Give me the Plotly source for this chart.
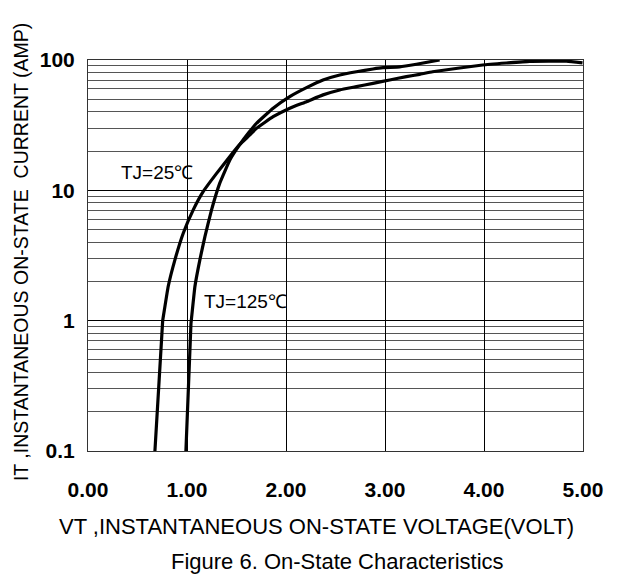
import plotly.graph_objects as go

# ---- data ----
v_25 = [0.676, 0.754, 0.767, 0.810, 0.878, 0.962, 1.063, 1.163, 1.299, 1.433, 1.534,
        1.635, 1.702, 1.870, 2.038, 2.207, 2.374, 2.543, 2.711, 2.879, 3.047, 3.216,
        3.350, 3.481, 3.986, 4.460, 4.834, 4.995]
i_25 = [0.1, 0.99, 1.15, 1.83, 2.93, 4.69, 7.08, 9.77, 13.5, 18.2, 22.5,
        26.6, 29.9, 36.7, 42.7, 47.9, 54.0, 58.9, 62.4, 66.2, 70.3, 74.5,
        77.6, 81.3, 91.6, 97.7, 98.0, 94.9]

v_125 = [0.989, 1.040, 1.046, 1.080, 1.130, 1.181, 1.248, 1.332, 1.433, 1.534, 1.620,
         1.702, 1.870, 2.038, 2.207, 2.374, 2.543, 2.711, 2.879, 2.980, 3.148, 3.317, 3.552]
i_125 = [0.1, 0.95, 1.05, 1.83, 2.93, 4.42, 7.08, 11.4, 17.1, 22.5, 27.5,
         32.7, 42.7, 52.4, 61.4, 70.3, 76.8, 81.3, 85.3, 87.3, 88.5, 92.7, 100.0]

x_ticks = [0, 1, 2, 3, 4, 5]
x_ticktext = ["0.00", "1.00", "2.00", "3.00", "4.00", "5.00"]
y_ticks = [0.1, 1, 10, 100]
y_ticktext = ["0.1", "1", "10", "100"]
minor_digits = [2, 3, 4, 5, 6, 7, 8, 9]
decades = [0.1, 1, 10]

x_title = "VT ,INSTANTANEOUS ON-STATE VOLTAGE(VOLT)"
y_title = "IT ,INSTANTANEOUS ON-STATE\u00a0\u00a0CURRENT (AMP)"
fig_title = "Figure 6. On-State Characteristics"
label_25 = "TJ=25\u2103"
label_125 = "TJ=125\u2103"

minor_vals = [d * m for d in decades for m in minor_digits]

tick_font = dict(family="Liberation Sans, Arial, sans-serif", size=21, color="black", weight="bold")
txt = "Liberation Sans, Arial, sans-serif"

fig = go.Figure()
fig.add_trace(go.Scatter(x=v_25, y=i_25, mode="lines", name=label_25,
                         line=dict(color="black", width=3.2, shape="spline", smoothing=0.3)))
fig.add_trace(go.Scatter(x=v_125, y=i_125, mode="lines", name=label_125,
                         line=dict(color="black", width=3.2, shape="spline", smoothing=0.3)))

ann_common = dict(showarrow=False, xanchor="center", yanchor="middle")
fig.update_layout(
    width=617, height=574,
    margin=dict(l=80, r=41.5, t=52, b=130.7),
    paper_bgcolor="white", plot_bgcolor="white",
    showlegend=False,
    annotations=[
        dict(x=0.70, y=1.134, xref="x", yref="y", text=label_25,
             font=dict(family=txt, size=19, color="black"), **ann_common),
        dict(x=1.589, y=0.145, xref="x", yref="y", text=label_125,
             font=dict(family=txt, size=19, color="black"), **ann_common),
        dict(x=0.462, y=-0.1935, xref="paper", yref="paper", text=x_title,
             font=dict(family=txt, size=22, color="black"), **ann_common),
        dict(x=0.5035, y=-0.283, xref="paper", yref="paper", text=fig_title,
             font=dict(family=txt, size=22, color="black"), **ann_common),
        dict(x=-0.1352, y=0.509, xref="paper", yref="paper", text=y_title, textangle=-90,
             font=dict(family=txt, size=19.5, color="black"), **ann_common),
    ],
)

fig.update_xaxes(
    range=[0, 5], tickvals=x_ticks, ticktext=x_ticktext, automargin=False,
    showgrid=True, gridcolor="black", gridwidth=1,
    zeroline=False, showline=True, linecolor="#333", linewidth=1, mirror=True,
    ticks="inside", ticklen=5, tickcolor="black",
    tickfont=tick_font, ticklabelstandoff=20,
)
fig.update_yaxes(
    type="log", range=[-1, 2], tickvals=y_ticks, ticktext=y_ticktext, automargin=False,
    showgrid=True, gridcolor="black", gridwidth=1,
    zeroline=False, showline=True, linecolor="#333", linewidth=1, mirror=True,
    ticks="inside", ticklen=7, tickcolor="black",
    tickfont=tick_font, ticklabelstandoff=8,
    minor=dict(tickvals=minor_vals, showgrid=True, gridcolor="#555", gridwidth=1, ticks=""),
)

fig.write_html("out.html")
